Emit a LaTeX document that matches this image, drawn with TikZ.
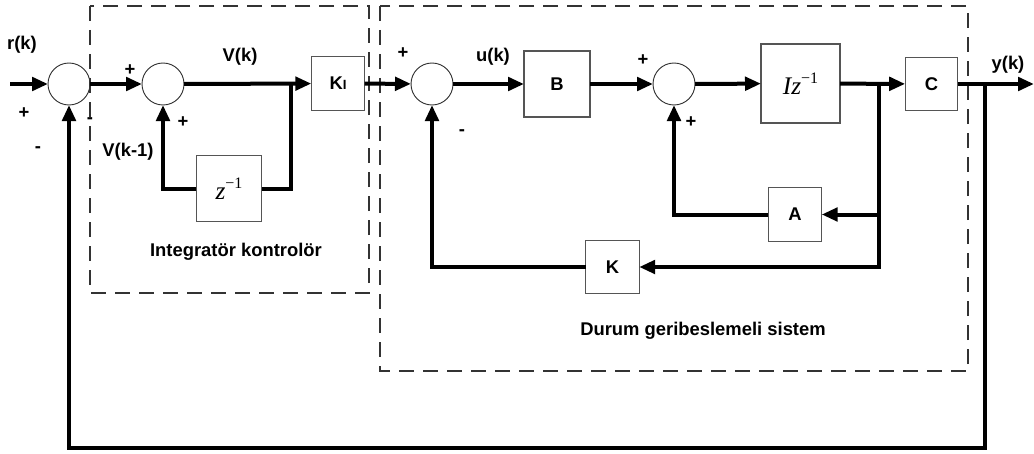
\documentclass[tikz,border=0pt]{standalone}
\usepackage{fontspec}
\setmainfont{Liberation Sans}
\newfontfamily\tmsfont{Liberation Serif}
\usepackage{tikz}
\usetikzlibrary{arrows.meta, positioning, calc}
\definecolor{boxgray}{HTML}{555555}
\newcommand{\zinv}[1]{{\tmsfont\mdseries\fontsize{19}{19}\selectfont\itshape #1\raisebox{0.42em}{\fontsize{12}{12}\selectfont\upshape −1}}}

\begin{document}
\begin{tikzpicture}[
    x=0.75pt, y=-0.75pt,
    font=\fontsize{13.8}{16}\selectfont\bfseries,
    blk/.style={rectangle, draw=boxgray, line width=0.8pt, fill=white,
                minimum width=#1, minimum height=#1, inner sep=0pt, outer sep=0pt},
    sum/.style={circle, draw=black!80, line width=0.7pt, minimum size=31.5pt,
                inner sep=0pt, outer sep=0pt},
    sig/.style={line width=3pt, -{Triangle[length=12pt, width=10pt]}},
    wire/.style={line width=3pt},
    group/.style={draw=black!80, line width=1pt, dash pattern=on 11pt off 7pt},
    lbl/.style={inner sep=1pt}
]
    \useasboundingbox (0,0) rectangle (1034,453);

    \draw[group] (90,6) rectangle (369,293);
    \draw[group] (380,6) rectangle (968,371);

    \node[sum] (s1) at (69,84) {};
    \node[sum] (s2) at (163,84) {};
    \node[sum] (s3) at (432,84) {};
    \node[sum] (s4) at (674,84) {};

    \node[blk=40pt] (ki) at (338,83.5) {K{\fontsize{10}{10}\selectfont I}};
    \node[blk=49pt] (z) at (229,188.5) {\zinv{z}};
    \node[blk=49.5pt] (B) at (557,84) {B};
    \node[blk=59.25pt] (Iz) at (800.5,83.5) {\zinv{Iz}};
    \node[blk=39.5pt] (C) at (931.5,84) {C};
    \node[blk=40pt] (A) at (795,214.5) {A};
    \node[blk=40pt] (K) at (612.5,267) {K};

    \coordinate (in) at (10,84);
    \coordinate (b0) at (291,84);
    \coordinate (b1) at (879,84);
    \coordinate (b2) at (985,84);
    \coordinate (b3) at (985,448);
    \coordinate (out) at (1034,84);

    \draw[sig] (in) -- (s1);
    \draw[sig] (s1) -- (s2);
    \draw[sig] (s2) -- (ki);
    \draw[wire] (b0) |- (z);
    \draw[sig] (z) -| (s2);
    \draw[sig] (ki) -- (s3);
    \draw[sig] (s3) -- (B);
    \draw[sig] (B) -- (s4);
    \draw[sig] (s4) -- (Iz);
    \draw[sig] (Iz) -- (C);
    \draw[sig] (b1) |- (A);
    \draw[sig] (b1) |- (K);
    \draw[sig] (A) -| (s4);
    \draw[sig] (K) -| (s3);
    \draw[sig] (C) -- (out);
    \draw[sig] (b2) -- (b3) -| (s1);

    \node[lbl] (rk) at (22,45) {r(k)};
    \node[lbl] (p1) at (24,113) {+};
    \node[lbl] (m1) at (38,150) {-};
    \node[lbl] (m1b) at (90,121) {-};
    \node[lbl] (p2) at (130,70) {+};
    \node[lbl] (p3) at (183,122) {+};
    \node[lbl] (vk) at (240,57) {V(k)};
    \node[lbl] (vk1) at (128,152) {V(k-1)};
    \node[lbl] (p4) at (403,53) {+};
    \node[lbl] (uk) at (493,57) {u(k)};
    \node[lbl] (m2) at (462,133) {-};
    \node[lbl] (p5) at (643,60) {+};
    \node[lbl] (p6) at (691,122) {+};
    \node[lbl] (yk) at (1008,65) {y(k)};
    \node[lbl] (ttl1) at (236,252) {Integratör kontrolör};
    \node[lbl] (ttl2) at (703,331) {Durum geribeslemeli sistem};
\end{tikzpicture}
\end{document}
